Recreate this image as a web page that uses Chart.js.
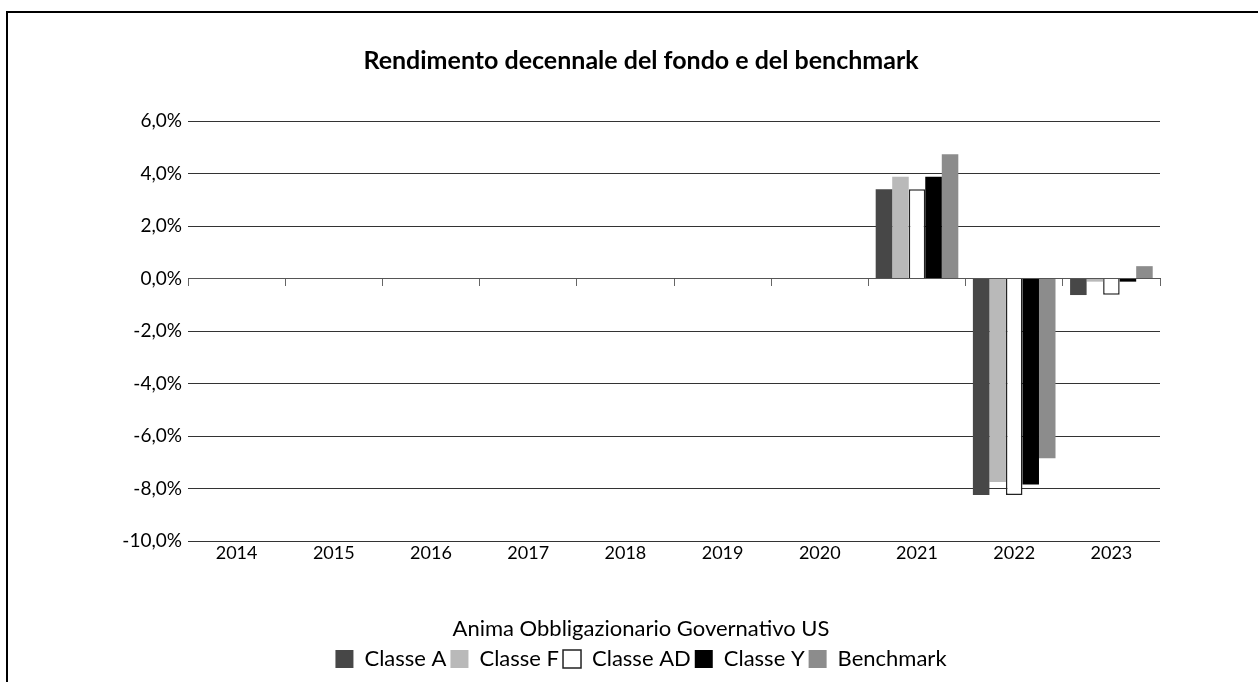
<!DOCTYPE html>
<html>
<head>
<meta charset="utf-8">
<script src="https://cdn.jsdelivr.net/npm/chart.js@4"></script>
<style>
    html, body { margin: 0; padding: 0; background: #fff; overflow: hidden; }
    #frame {
        position: absolute;
        left: 6px;
        top: 11px;
        width: 1266px;
        height: 720px;
        border: 2px solid #000;
    }
    #wrap { position: relative; width: 1266px; height: 667px; }
</style>
</head>
<body>
<div id="frame"><div id="wrap"><canvas id="chart"></canvas></div></div>
<script>
// Data (percent)
const years = ['2014', '2015', '2016', '2017', '2018', '2019', '2020', '2021', '2022', '2023'];
const classeA = [null, null, null, null, null, null, null, 3.4, -8.25, -0.63];
const classeF = [null, null, null, null, null, null, null, 3.88, -7.75, -0.12];
const classeAD = [null, null, null, null, null, null, null, 3.4, -8.25, -0.62];
const classeY = [null, null, null, null, null, null, null, 3.88, -7.85, -0.12];
const benchmark = [null, null, null, null, null, null, null, 4.73, -6.85, 0.47];
const yTicks = [-10, -8, -6, -4, -2, 0, 2, 4, 6];

const FONT = 'Lato, "Noto Sans", sans-serif';
Chart.defaults.font.family = FONT;
Chart.defaults.color = '#000';

function fmtPct(v) {
    return v.toFixed(1).replace('.', ',') + '%';
}

const ctx = document.getElementById('chart').getContext('2d');
new Chart(ctx, {
    type: 'bar',
    data: {
        labels: years,
        datasets: [
            { label: 'Classe A', data: classeA, backgroundColor: '#474747', borderWidth: 0 },
            { label: 'Classe F', data: classeF, backgroundColor: '#b9b9b9', borderWidth: 0 },
            { label: 'Classe AD', data: classeAD, backgroundColor: '#ffffff', borderColor: '#222', borderWidth: 1.5 },
            { label: 'Classe Y', data: classeY, backgroundColor: '#000000', borderWidth: 0 },
            { label: 'Benchmark', data: benchmark, backgroundColor: '#8c8c8c', borderWidth: 0 }
        ]
    },
    options: {
        responsive: true,
        maintainAspectRatio: false,
        animation: false,
        categoryPercentage: 0.85,
        barPercentage: 1.0,
        layout: { padding: { top: 10, left: 0, right: 0, bottom: 0 } },
        plugins: {
            title: {
                display: true,
                text: 'Rendimento decennale del fondo e del benchmark',
                color: '#000',
                font: { size: 25, weight: 'bold' },
                padding: { top: 23, bottom: 45 }
            },
            legend: {
                position: 'bottom',
                title: {
                    display: true,
                    text: 'Anima Obbligazionario Governativo US',
                    color: '#000',
                    font: { size: 22 },
                    padding: { top: 53, bottom: 0 }
                },
                labels: {
                    boxWidth: 18,
                    boxHeight: 18,
                    padding: 4,
                    color: '#000',
                    font: { size: 22 }
                }
            },
            tooltip: { enabled: false }
        },
        scales: {
            x: {
                offset: true,
                grid: { display: false, drawTicks: false },
                border: { display: false },
                ticks: { font: { size: 18 }, padding: 1, color: '#000' }
            },
            xZero: {
                type: 'category',
                position: { y: 0 },
                offset: true,
                grid: { offset: true, drawOnChartArea: false, drawTicks: true, tickLength: 7, color: '#666' },
                border: { display: true, color: '#555', width: 1 },
                ticks: { display: false }
            },
            y: {
                min: -10,
                max: 6,
                afterBuildTicks: (scale) => {
                    scale.ticks = yTicks.map(v => ({ value: v }));
                },
                afterFit: (scale) => { scale.width = 180; },
                grid: { color: '#333', drawTicks: false },
                border: { display: false },
                ticks: {
                    font: { size: 19 },
                    padding: 6,
                    color: '#000',
                    callback: (v) => fmtPct(v)
                }
            },
            // empty right column so the plot stops short of the frame
            yRight: {
                position: 'right',
                afterFit: (scale) => { scale.width = 114; },
                grid: { display: false },
                border: { display: false },
                ticks: { display: false }
            }
        }
    }
});
</script>
</body>
</html>
